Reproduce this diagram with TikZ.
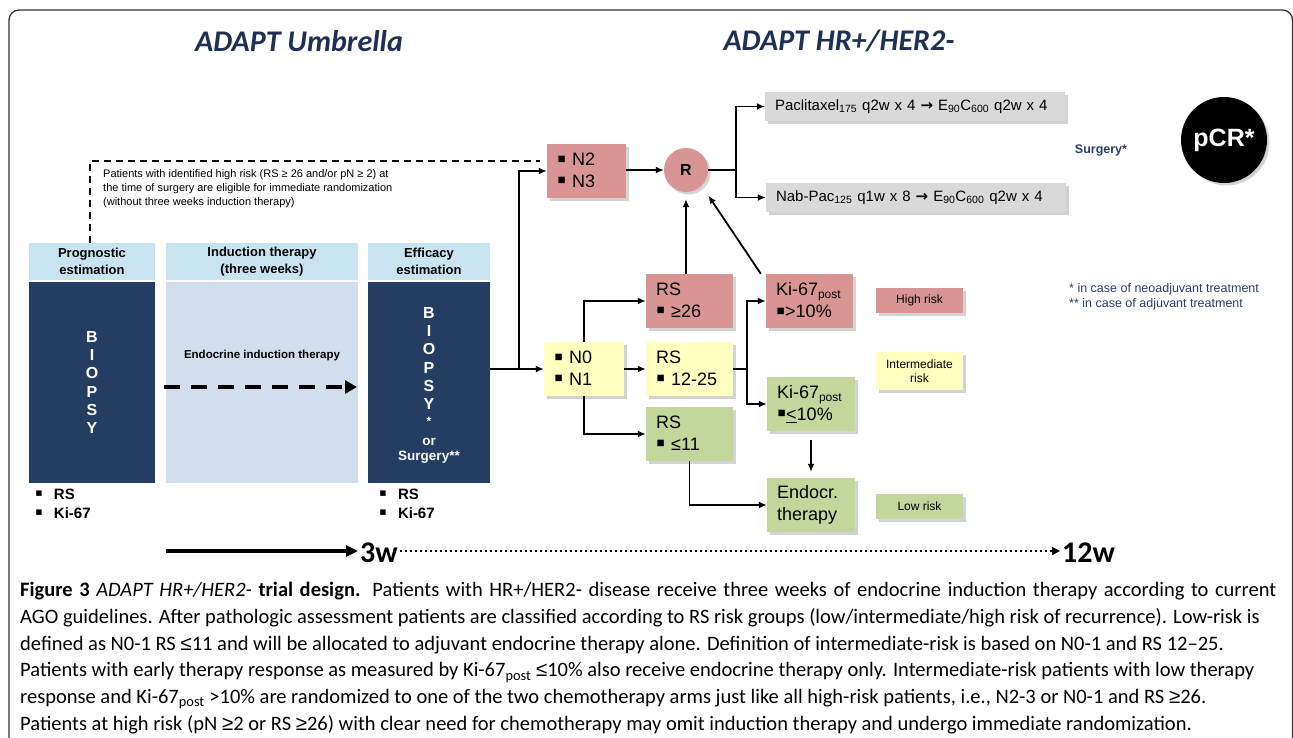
\documentclass[tikz,border=0pt]{standalone}
\usepackage{fontspec}
\setmainfont{Liberation Sans}
\newfontfamily\capfont{Carlito}
\newfontfamily\symfont{DejaVu Sans}
\usetikzlibrary{positioning,shadows,arrows.meta}

\definecolor{navy}{RGB}{36,62,99}
\definecolor{hdrblue}{RGB}{200,228,240}
\definecolor{indblue}{RGB}{211,222,237}
\definecolor{riskhigh}{RGB}{217,149,148}
\definecolor{riskmid}{RGB}{255,255,192}
\definecolor{risklow}{RGB}{195,214,155}
\definecolor{armgray}{RGB}{217,217,217}
\definecolor{titleblue}{RGB}{31,48,84}
\definecolor{noteblue}{RGB}{40,62,110}

\newcommand{\post}{\raisebox{-3pt}{\fontsize{12}{12}\selectfont post}}
\newcommand{\lesym}{{\rmfamily ≤}}
\newcommand{\gesym}{{\rmfamily ≥}}
\newcommand{\bul}{\raisebox{-1.5pt}{\smash{\fontsize{26}{0}\selectfont ▪}}}
\newcommand{\bulsm}{\raisebox{-1pt}{\smash{\fontsize{22}{0}\selectfont ▪}}}
\newcommand{\thn}{{\symfont\bfseries →}}

\tikzset{
  shade/.style={drop shadow={shadow xshift=2.5pt, shadow yshift=-2.5pt, opacity=0.35}},
  box/.style={shade, minimum height=54pt, inner xsep=10pt, inner ysep=0pt, align=left,
    font=\fontsize{18}{21.7}\selectfont},
  legend/.style={shade, minimum width=87pt, inner sep=0pt, align=center,
    font=\fontsize{12}{14}\selectfont},
  arm/.style={shade, fill=armgray, minimum height=29pt, inner xsep=10pt, text width=280pt,
    align=left, font=\fontsize{15}{18}\selectfont},
  hdr/.style={fill=hdrblue, minimum height=37pt, inner sep=0pt, align=center,
    font=\bfseries\fontsize{13}{16.5}\selectfont},
  body/.style={minimum height=201pt, inner sep=0pt, align=center,
    font=\bfseries\fontsize{16}{18.3}\selectfont},
  conn/.style={line width=1.8pt},
}

\begin{document}
\begin{tikzpicture}[x=1pt,y=-1pt,>={Latex[length=8pt,width=7pt]}]
  \useasboundingbox (0,0) rectangle (1293,737);
  \draw[line width=1.3pt, black!80, rounded corners=10pt] (9,740) -- (9,10) -- (1292.5,10) -- (1292.5,740);

  \node[font=\capfont\bfseries\itshape\fontsize{30}{30}\selectfont, text=titleblue] (t_umb) at (299,41) {ADAPT Umbrella};
  \node[font=\capfont\bfseries\itshape\fontsize{30}{30}\selectfont, text=titleblue] (t_hr) at (839,41) {ADAPT HR+/HER2-};

  % left blocks
  \node[hdr, minimum width=126pt] (prog_h) at (92,261.5) {Prognostic\\estimation};
  \node[body, fill=navy, text=white, minimum width=126pt] (prog_b) at (92,382.5) {B\\I\\O\\P\\S\\Y};
  \node[hdr, minimum width=192pt] (ind_h) at (262,261.5) {Induction therapy\\(three weeks)};
  \node[body, fill=indblue, minimum width=192pt] (ind_b) at (262,382.5) {};
  \node[font=\bfseries\fontsize{11.5}{13}\selectfont] (ind_t) at (262,356) {Endocrine induction therapy};
  \node[hdr, minimum width=122pt] (eff_h) at (429,261.5) {Efficacy\\estimation};
  \node[body, fill=navy, minimum width=122pt] (eff_b) at (429,382.5) {};
  \node[body, text=white, minimum height=0pt] (eff_t) at (429,358.5) {B\\I\\O\\P\\S\\Y};
  \node[text=white, font=\bfseries\fontsize{12}{12}\selectfont] (eff_star) at (429,421) {*};
  \node[text=white, align=center, font=\bfseries\fontsize{13.5}{15.5}\selectfont] (eff_or) at (429,451) {or\\Surgery**};

  \coordinate (ind_s) at (164,387);
  \coordinate (ind_e) at (357,387);
  \draw[->, line width=4.5pt, dash pattern=on 16pt off 11pt, >={Triangle[length=12pt,width=13pt]}] (ind_s) -- (ind_e);

  \node[anchor=north west, align=left, inner sep=0pt, font=\bfseries\fontsize{15}{19}\selectfont] (prog_l) at (35,489) {\bulsm\hspace{11pt}RS\\\bulsm\hspace{11pt}Ki-67};
  \node[anchor=north west, align=left, inner sep=0pt, font=\bfseries\fontsize{15}{19}\selectfont] (eff_l) at (379,489) {\bulsm\hspace{11pt}RS\\\bulsm\hspace{11pt}Ki-67};

  % shortcut for high risk at surgery
  \coordinate (dash_e) at (540,161);
  \draw[dashed, line width=1.4pt, dash pattern=on 7pt off 5pt] (prog_h.north -| 90,0) |- (dash_e);
  \node[anchor=north west, align=left, inner sep=0pt, font=\fontsize{11}{14}\selectfont] (note) at (103,169)
    {Patients with identified high risk (RS \gesym\ 26 and/or pN \gesym\ 2) at\\the time of surgery are eligible for immediate randomization\\(without three weeks induction therapy)};

  % risk groups
  \node[box, fill=riskhigh, text width=59pt] (n_23) at (586.5,171) {\bul\ N2\\\bul\ N3};
  \node[box, fill=riskmid, text width=60pt] (n_01) at (584,369) {\bul\ N0\\\bul\ N1};
  \node[box, fill=riskhigh, text width=67pt] (rs_26) at (689.5,301) {RS\\\bul\ \gesym26};
  \node[box, fill=riskmid, text width=67pt] (rs_1225) at (689.5,369) {RS\\\bul\ 12-25};
  \node[box, fill=risklow, text width=67pt] (rs_11) at (689.5,434) {RS\\\bul\ \lesym11};
  \node[box, fill=riskhigh, text width=67pt] (ki_hi) at (809.5,301) {Ki-67\post\\\bul>10\%};
  \node[box, fill=risklow, text width=68pt] (ki_lo) at (811,404) {Ki-67\post\\\bul\underline{<}10\%};
  \node[box, fill=risklow, text width=68pt] (endo) at (811,505) {Endocr.\\therapy};

  \node[shade, circle, fill=riskhigh, minimum size=44pt, inner sep=0pt, font=\bfseries\fontsize{16}{16}\selectfont] (r) at (686,170) {R};
  \node[arm, minimum width=300pt] (pac) at (915,106.5) {Paclitaxel\textsubscript{175} q2w x 4 \thn\ E\textsubscript{90}C\textsubscript{600} q2w x 4};
  \node[arm, minimum width=298pt] (nab) at (916,197.5) {Nab-Pac\textsubscript{125} q1w x 8 \thn\ E\textsubscript{90}C\textsubscript{600} q2w x 4};

  \node[text=noteblue, font=\bfseries\fontsize{12.5}{14}\selectfont] (surg) at (1101,150) {Surgery*};
  \node[shade, circle, fill=black, text=white, minimum size=86pt, inner sep=0pt, font=\bfseries\fontsize{25}{25}\selectfont] (pcr) at (1224,140) {pCR*};
  \node[anchor=north west, align=left, inner sep=0pt, text=noteblue, font=\fontsize{12.5}{15}\selectfont] (foot) at (1069,283)
    {* in case of neoadjuvant treatment\\** in case of adjuvant treatment};

  \node[legend, fill=riskhigh, minimum height=25pt] (leg_hi) at (919.5,300.5) {High risk};
  \node[legend, fill=riskmid, minimum height=38pt] (leg_mid) at (919.5,371) {Intermediate\\risk};
  \node[legend, fill=risklow, minimum height=25pt] (leg_lo) at (919.5,506.5) {Low risk};

  % connectors
  \coordinate (j_eff) at (519,369);
  \coordinate (j_r) at (736,170);
  \coordinate (j_rs) at (747,369);
  \draw[conn, ->] (eff_b.east |- n_01.west) -- (n_01.west);
  \draw[conn, ->] (j_eff) |- (n_23.west);
  \draw[conn, ->] (n_23.east |- r.west) -- (r.west);
  \draw[conn] (r.east) -- (j_r);
  \draw[conn, ->] (j_r) |- (pac.west);
  \draw[conn, ->] (j_r) |- (nab.west);
  \draw[conn, ->, shorten >=7pt] (r.south |- rs_26.north) -- (r.south);
  \draw[conn, ->, shorten >=12pt] ([xshift=-5pt]ki_hi.north west) -- (r.south east);
  \draw[conn, ->] (n_01.north) |- (rs_26.west);
  \draw[conn, ->] (n_01.east) -- (rs_1225.west);
  \draw[conn, ->] (n_01.south) |- (rs_11.west);
  \draw[conn] (rs_1225.east) -- (j_rs);
  \draw[conn, ->] (j_rs) |- (ki_hi.west);
  \draw[conn, ->] (j_rs) |- (ki_lo.west);
  \draw[conn, ->, shorten <=9pt, shorten >=6pt] (ki_lo.south) -- (endo.north);
  \draw[conn, ->] (rs_11.south) |- (endo.west);

  % time line
  \node[anchor=west, inner sep=2pt, font=\capfont\bfseries\fontsize{30}{30}\selectfont] (w3) at (358,553) {3w};
  \node[anchor=west, inner sep=2pt, font=\capfont\bfseries\fontsize{30}{30}\selectfont] (w12) at (1060,553) {12w};
  \coordinate (t_0) at (166,551);
  \draw[line width=3.5pt, ->, >={Triangle[length=12pt,width=11pt]}] (t_0) -- (w3.west |- t_0);
  \draw[line width=2.5pt, dash pattern=on 2.5pt off 2.5pt, ->, >={Triangle[length=8pt,width=8pt]}] (w3.east |- t_0) -- (w12.west |- t_0);

  \node[anchor=north west, align=left, inner sep=0pt, font=\capfont\fontsize{20.5}{26.8}\selectfont] (caption) at (20,582)
    {\makebox[1256pt][s]{\textbf{Figure 3} \textit{ADAPT HR+/HER2-} \textbf{trial design.} Patients with HR+/HER2- disease receive three weeks of endocrine induction therapy according to current}\\
     AGO guidelines. After pathologic assessment patients are classified according to RS risk groups (low/intermediate/high risk of recurrence). Low-risk is\\
     defined as N0-1 RS \lesym11 and will be allocated to adjuvant endocrine therapy alone. Definition of intermediate-risk is based on N0-1 and RS 12–25.\\
     Patients with early therapy response as measured by Ki-67\textsubscript{post} \lesym10\% also receive endocrine therapy only. Intermediate-risk patients with low therapy\\
     response and Ki-67\textsubscript{post} >10\% are randomized to one of the two chemotherapy arms just like all high-risk patients, i.e., N2-3 or N0-1 and RS \gesym26.\\
     Patients at high risk (pN \gesym2 or RS \gesym26) with clear need for chemotherapy may omit induction therapy and undergo immediate randomization.};
\end{tikzpicture}
\end{document}
